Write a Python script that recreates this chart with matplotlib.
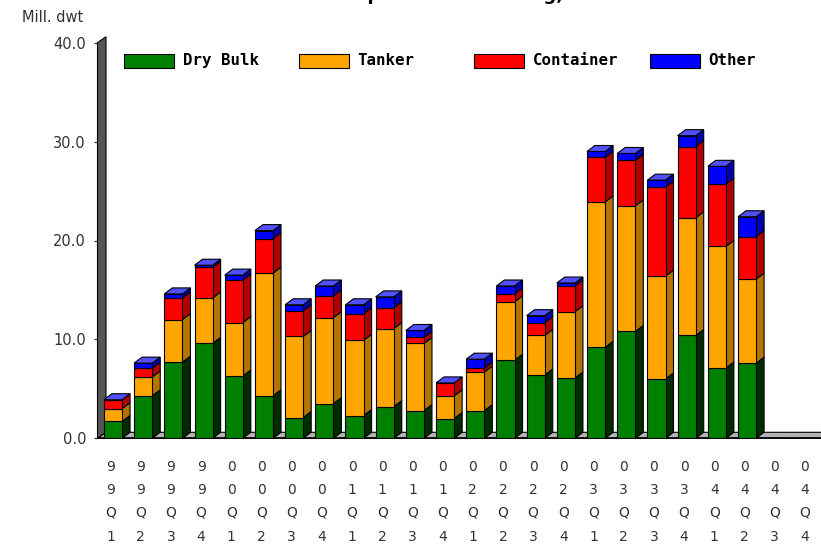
import matplotlib
matplotlib.use("Agg")
import matplotlib.pyplot as plt
from matplotlib.patches import Polygon, Rectangle
from matplotlib.transforms import blended_transform_factory

# Quarterly newbuilding contracts by ship type, million dwt
quarters = ["99Q1", "99Q2", "99Q3", "99Q4", "00Q1", "00Q2", "00Q3", "00Q4",
            "01Q1", "01Q2", "01Q3", "01Q4", "02Q1", "02Q2", "02Q3", "02Q4",
            "03Q1", "03Q2", "03Q3", "03Q4", "04Q1", "04Q2", "04Q3", "04Q4"]
dry_bulk = [1.7, 4.3, 7.7, 9.6, 6.3, 4.3, 2.1, 3.5, 2.3, 3.2, 2.8, 2.0,
            2.8, 7.9, 6.4, 6.1, 9.2, 10.8, 6.0, 10.4, 7.1, 7.6, 0.0, 0.0]
tanker = [1.3, 1.9, 4.3, 4.6, 5.4, 12.4, 8.2, 8.7, 7.6, 7.9, 6.8, 2.3,
          3.9, 5.9, 4.0, 6.7, 14.7, 12.7, 10.4, 11.9, 12.3, 8.5, 0.0, 0.0]
container = [0.9, 0.9, 2.2, 3.1, 4.3, 3.5, 2.6, 2.2, 2.7, 2.1, 0.6, 1.3,
             0.4, 0.8, 1.3, 2.6, 4.5, 4.6, 9.0, 7.2, 6.3, 4.3, 0.0, 0.0]
other = [0.0, 0.5, 0.4, 0.2, 0.5, 0.8, 0.6, 1.0, 0.9, 1.1, 0.7, 0.0,
         0.9, 0.8, 0.7, 0.3, 0.6, 0.7, 0.7, 1.1, 1.8, 2.0, 0.0, 0.0]

series_names = ["Dry Bulk", "Tanker", "Container", "Other"]
series_values = [dry_bulk, tanker, container, other]
front_colors = ["#008000", "#ffa500", "#ff0000", "#0000ff"]
side_colors = ["#002c00", "#b37400", "#b00000", "#0000b0"]
top_color = "#5050ff"

y_ticks = [0, 10, 20, 30, 40]
y_ticklabels = ["0.0", "10.0", "20.0", "30.0", "40.0"]

W, H = 821, 549
fig = plt.figure(figsize=(W / 100, H / 100), dpi=100)
fig.patch.set_facecolor("white")

ax_left_px, ax_right_px = 97.5, 821.0
ax_top_px, ax_bot_px = 42.7, 438.3
ax = fig.add_axes([ax_left_px / W, (H - ax_bot_px) / H,
                   (ax_right_px - ax_left_px) / W, (ax_bot_px - ax_top_px) / H])
xmin, xmax = -0.513, 23.45
ymin, ymax = 0, 40
ax.set_xlim(xmin, xmax)
ax.set_ylim(ymin, ymax)
for s in ax.spines.values():
    s.set_visible(False)
ax.patch.set_alpha(0)

# pixel -> data conversion for the 3D depth offsets
sx = (xmax - xmin) / (ax_right_px - ax_left_px)
sy = (ymax - ymin) / (ax_bot_px - ax_top_px)
DX, DY = 8 * sx, 6 * sy
bar_w = 0.6
ink = "#333333"

# floor
floor = Polygon([(xmin, 0), (40, 0), (40 + DX, DY), (xmin + DX, DY)],
                closed=True, facecolor="#b4b4b4", edgecolor="black",
                linewidth=0.8, clip_on=False, zorder=1)
ax.add_patch(floor)
# left wall
wall_w = 8.5 * sx
wall = Polygon([(xmin, 0), (xmin, ymax), (xmin + wall_w, ymax + DY),
                (xmin + wall_w, DY)],
               closed=True, facecolor="#555555", edgecolor="black",
               linewidth=0.8, clip_on=False, zorder=2)
ax.add_patch(wall)
ax.plot([xmin, 40], [0, 0], color="black", linewidth=1.2, clip_on=False,
        zorder=3, solid_capstyle="butt")

# stacked 3D bars
x = list(range(len(quarters)))
bottoms = [0.0] * len(quarters)
for vals, fc, sc, name in zip(series_values, front_colors, side_colors, series_names):
    ax.bar(x, vals, width=bar_w, bottom=bottoms, color=fc, edgecolor="black",
           linewidth=0.8, zorder=5, label=name)
    for i, (v, b) in enumerate(zip(vals, bottoms)):
        if v <= 0:
            continue
        r = i + bar_w / 2
        side = Polygon([(r, b), (r + DX, b + DY), (r + DX, b + v + DY), (r, b + v)],
                       closed=True, facecolor=sc, edgecolor="black",
                       linewidth=0.8, zorder=4)
        ax.add_patch(side)
    bottoms = [b + v for b, v in zip(bottoms, vals)]

for i, tot in enumerate(bottoms):
    if tot <= 0:
        continue
    l, r = i - bar_w / 2, i + bar_w / 2
    top = Polygon([(l, tot), (l + DX, tot + DY), (r + DX, tot + DY), (r, tot)],
                  closed=True, facecolor=top_color, edgecolor="black",
                  linewidth=0.8, zorder=6, clip_on=False)
    ax.add_patch(top)

# y axis ticks
ax.set_yticks(y_ticks)
ax.set_yticklabels(y_ticklabels)
ax.tick_params(axis="y", length=4.5 * 0.72, width=0.9, color=ink,
               pad=7 * 0.72, labelsize=10.5, labelcolor=ink)
ax.set_xticks([])

# vertical x labels, one character per row
trans = blended_transform_factory(ax.transData, fig.transFigure)
row_px = [467, 490, 513, 537]
for i, q in enumerate(quarters):
    for ch, ypx in zip(q, row_px):
        ax.text(i - 2.5 * sx, (H - ypx) / H, ch, transform=trans,
                ha="center", va="center", fontsize=10, color=ink)

# unit label
fig.text(22 / W, 1 - 17 / H, "Mill. dwt", ha="left", va="center",
         fontsize=10.5, color=ink)

# title (sits at the top edge)
fig.text(328 / W, 1 + 0.5 / H, "Deep Sea Newbuilding, Contracts",
         ha="left", va="baseline", fontsize=13, fontweight="bold", color="black")

# legend
leg_x = [124, 299, 474, 650]
for name, fc, lx in zip(series_names, front_colors, leg_x):
    fig.patches.append(Rectangle((lx / W, 1 - 67.5 / H), 50 / W, 14 / H,
                                 transform=fig.transFigure, facecolor=fc,
                                 edgecolor="black", linewidth=0.8))
    fig.text((lx + 58.5) / W, 1 - 60.5 / H, name, ha="left", va="center",
             fontsize=11.3, fontweight="bold", family="DejaVu Sans Mono",
             color="black")

fig.savefig("out.png", dpi=100)
